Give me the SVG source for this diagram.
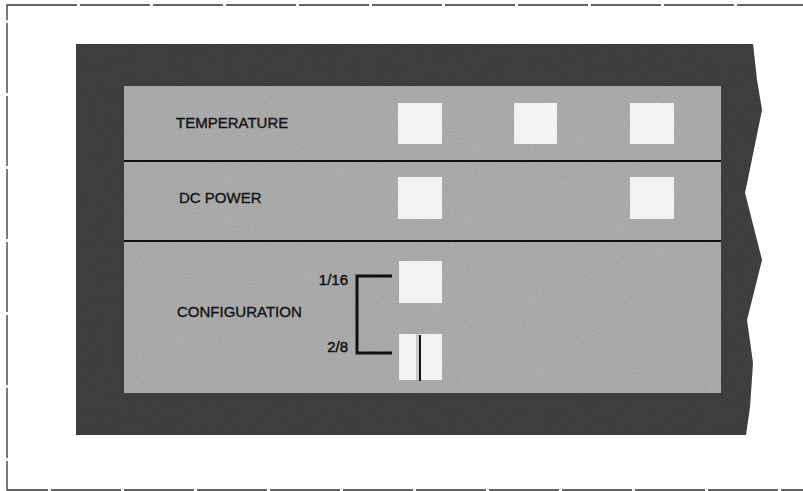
<svg xmlns="http://www.w3.org/2000/svg" width="803" height="491" viewBox="0 0 803 491">
  <defs>
    <filter id="grain" x="0" y="0" width="100%" height="100%">
      <feTurbulence type="fractalNoise" baseFrequency="0.9" numOctaves="2" seed="3" result="n"/>
      <feColorMatrix in="n" type="matrix" values="0 0 0 0 0  0 0 0 0 0  0 0 0 0 0  0 0 0 0.3 0" result="a"/>
      <feComposite in="a" in2="SourceGraphic" operator="in" result="b"/>
      <feMerge><feMergeNode in="SourceGraphic"/><feMergeNode in="b"/></feMerge>
    </filter>
  </defs>
  <style>
    .border { fill: none; stroke: #333; stroke-width: 1.3; stroke-dasharray: 70 3 }
    .frame { fill: #444444 }
    .panel { fill: #b6b6b6 }
    .divider { stroke: #111; stroke-width: 2 }
    .lamp { fill: #f2f2f2 }
    .lbl { font-family: "Liberation Sans", Arial, sans-serif; font-size: 15px; fill: #111; stroke: #111; stroke-width: 0.35 }
    .num { font-family: "Liberation Sans", Arial, sans-serif; font-size: 15px; fill: #111; stroke: #111; stroke-width: 0.45; text-anchor: end }
    .bracket { fill: none; stroke: #111; stroke-width: 3 }
  </style>
  <rect width="803" height="491" fill="#ffffff"/>
  <rect class="border" x="7" y="5" width="800" height="485"/>

  <g id="panel">
    <polygon class="frame" filter="url(#grain)" points="76,44 753,44 757,80 762,110 745,193 762,260 747,320 753,363 750,407 746,435 76,435"/>
    <rect class="panel" filter="url(#grain)" x="124" y="86" width="597" height="307"/>
    <line class="divider" x1="124" y1="161" x2="721" y2="161"/>
    <line class="divider" x1="124" y1="241" x2="721" y2="241"/>
  </g>

  <g id="temperature">
    <text class="lbl" x="176" y="128">TEMPERATURE</text>
    <rect class="lamp" x="398" y="103" width="44" height="41"/>
    <rect class="lamp" x="514" y="103" width="43" height="41"/>
    <rect class="lamp" x="630" y="103" width="44" height="41"/>
  </g>

  <g id="dc-power">
    <text class="lbl" x="179" y="203">DC POWER</text>
    <rect class="lamp" x="398" y="177" width="44" height="42"/>
    <rect class="lamp" x="630" y="177" width="44" height="42"/>
  </g>

  <g id="configuration">
    <text class="lbl" x="177" y="317">CONFIGURATION</text>
    <text class="num" x="348" y="285">1/16</text>
    <text class="num" x="348" y="352">2/8</text>
    <rect class="lamp" x="399" y="261" width="43" height="42"/>
    <rect class="lamp" x="399" y="334" width="43" height="46"/>
    <rect x="416" y="334" width="3" height="46" fill="#c8c8c8"/>
    <line x1="420" y1="335" x2="420" y2="381" stroke="#111" stroke-width="2"/>
  </g>

  <g id="connectors">
    <polyline class="bracket" points="392,276 357,276 357,353 392,353"/>
  </g>
</svg>
